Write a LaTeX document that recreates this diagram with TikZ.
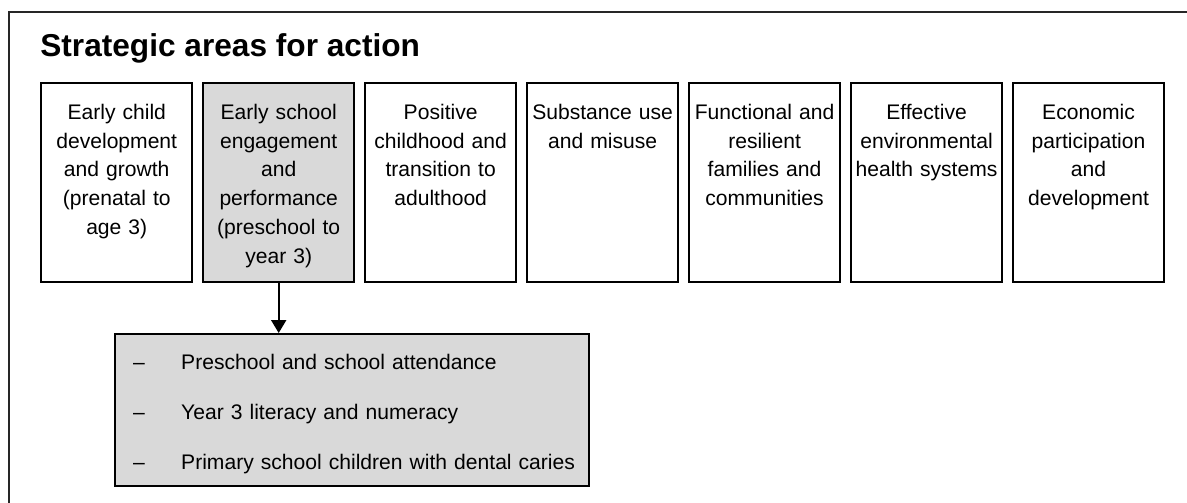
\documentclass[tikz,border=0pt]{standalone}
\usepackage{fontspec}
\setmainfont{Liberation Sans}
\usetikzlibrary{positioning,arrows.meta}

\newcommand{\dashitem}[1]{\mbox{\makebox[0.96cm][l]{\textendash}#1}}

\begin{document}
\begin{tikzpicture}[
  area/.style={draw,line width=1.4pt,anchor=north west,minimum width=3.02cm,
    text width=2.9cm,align=center,inner xsep=0pt,inner ysep=0.32cm,
    text height=0.4cm,text depth=2.94cm,font=\fontsize{12}{16.4}\selectfont},
  listbox/.style={draw,fill=gray!30,line width=1.4pt,anchor=north west,
    text width=8.76cm,align=left,inner xsep=0.36cm,inner ysep=0pt,
    text height=0.7cm,text depth=2.34cm,font=\fontsize{12}{28.45}\selectfont}]
\useasboundingbox (0,0) rectangle (23.74,-10.04);

% frame, open on the right and at the bottom
\draw[line width=1.2pt,black!85] (0.18,-10.3) -- (0.18,-0.24) -- (24,-0.24);

\node[anchor=base west,inner sep=0pt,font=\bfseries\fontsize{18}{22}\selectfont] (title) at (0.8,-1.12) {Strategic areas for action};

\node[area] (early) at (0.8,-1.64) {Early child\\development\\and growth\\(prenatal to\\age 3)};
\node[area,fill=gray!30,right=0.17cm of early] (school) {Early school\\engagement\\and\\performance\\(preschool to\\year 3)};
\node[area,right=0.17cm of school] (positive) {Positive\\childhood and\\transition to\\adulthood};
\node[area,right=0.17cm of positive] (substance) {Substance use\\and misuse};
\node[area,right=0.17cm of substance] (families) {Functional and\\resilient\\families and\\communities};
\node[area,right=0.17cm of families] (environ) {Effective\\environmental\\health systems};
\node[area,right=0.17cm of environ] (economic) {Economic\\participation\\and\\development};

\node[listbox] (measures) at (2.28,-6.66) {%
  \dashitem{Preschool and school attendance}\\
  \dashitem{Year 3 literacy and numeracy}\\
  \dashitem{Primary school children with dental caries}};

\draw[line width=1.1pt,-{Triangle[width=0.3cm,length=0.26cm]}] (school.south) -- (school.south |- measures.north);

\end{tikzpicture}
\end{document}
